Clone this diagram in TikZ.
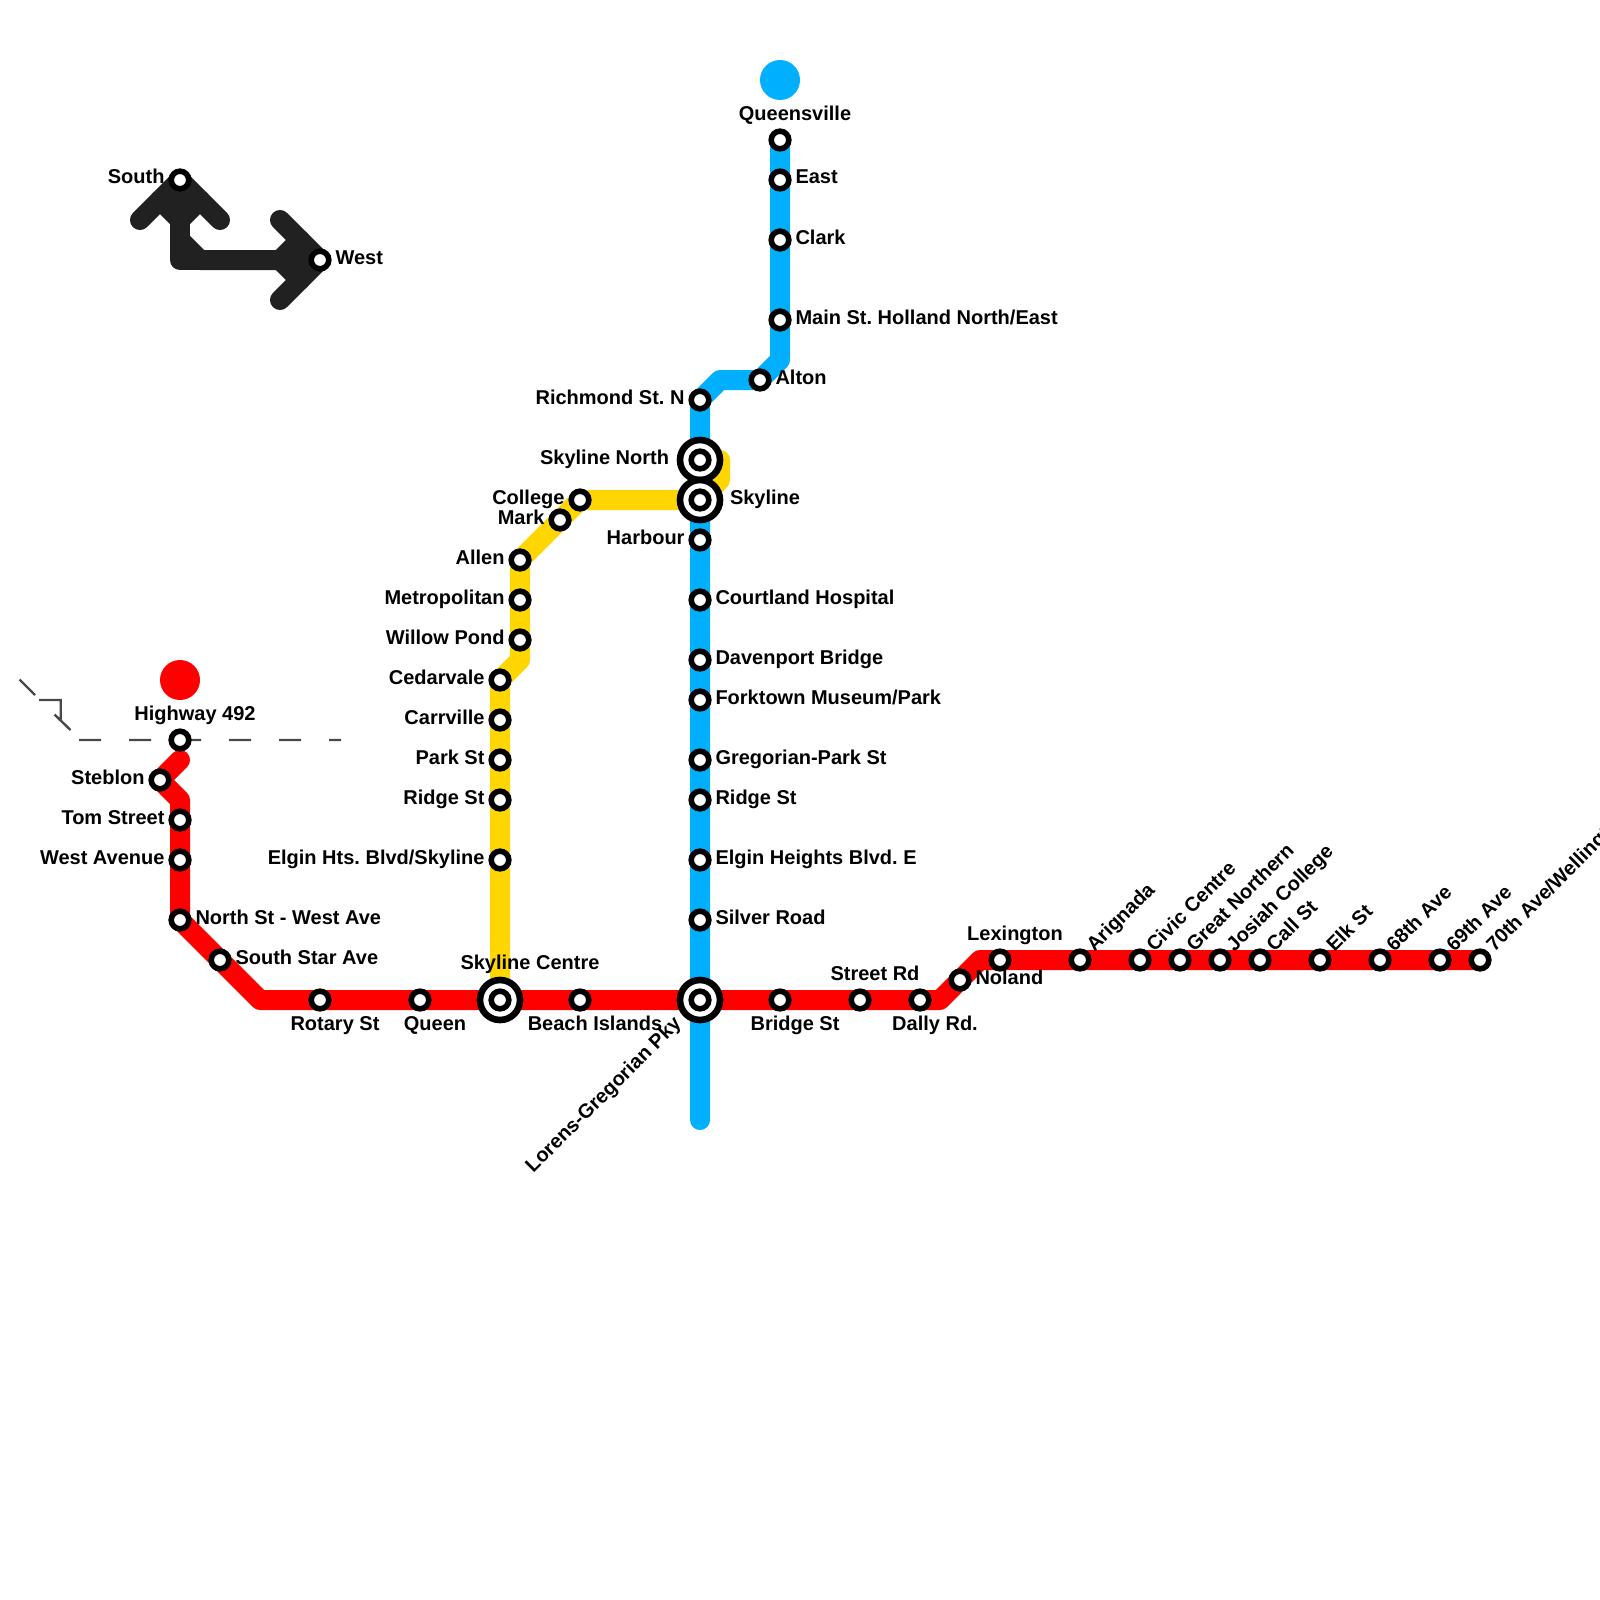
\documentclass[tikz,border=0pt]{standalone}
\usepackage{fontspec}
\setmainfont{Liberation Sans}
\usetikzlibrary{backgrounds}
\frenchspacing
\definecolor{redline}{HTML}{FF0000}
\definecolor{blueline}{HTML}{00B0FF}
\definecolor{yellowline}{HTML}{FFD600}
\definecolor{darkline}{HTML}{212121}
\definecolor{dashgrey}{HTML}{484848}
\tikzset{
  stnd/.style={circle,draw=black,fill=white,line width=2.8pt,minimum size=8.8pt,inner sep=0pt,outer sep=0pt},
  ringd/.style={circle,draw=black,fill=white,line width=3.3pt,minimum size=20pt,inner sep=0pt,outer sep=0pt},
  lbl/.style={font=\fontsize{10pt}{11pt}\selectfont\bfseries,inner sep=0pt,outer sep=0pt,text=black},
  metro/.style={line width=10pt,line cap=round,line join=round},
  thin dash/.style={line width=1.2pt,draw=dashgrey}
}
\newcommand{\stn}[3]{\node[stnd] (#1) at (#2,#3) {};}
\newcommand{\inter}[3]{\node[ringd] (#1r) at (#2,#3) {};\node[stnd] (#1) at (#2,#3) {};}
\newcommand{\labL}[4]{\node[lbl,anchor=base east] (#1L) at ({#2-15.5},{#3+4}) {#4};}
\newcommand{\labR}[4]{\node[lbl,anchor=base west] (#1L) at ({#2+15.5},{#3+4}) {#4};}
\newcommand{\labT}[4]{\node[lbl,anchor=base] (#1L) at ({#2+15},{#3-20}) {#4};}
\newcommand{\labB}[4]{\node[lbl,anchor=base] (#1L) at ({#2+15},{#3+30}) {#4};}
\newcommand{\labD}[4]{\node[lbl,anchor=base west,rotate=45] (#1L) at ({#2+14.5},{#3-7.5}) {#4};}
\begin{document}
\begin{tikzpicture}[x=0.5pt,y=-0.5pt]
\useasboundingbox (0,0) rectangle (1600,1600);
% corners
\coordinate (r0) at (180,760);
\coordinate (r1) at (160,780);
\coordinate (r2) at (180,800);
\coordinate (r3) at (260,1000);
\coordinate (r4) at (940,1000);
\coordinate (r5) at (980,960);
\coordinate (b1) at (780,360);
\coordinate (b2) at (720,380);
\coordinate (b3) at (700,1120);
\coordinate (y1) at (720,460);
\coordinate (y2) at (720,480);
\coordinate (y3) at (520,660);
\coordinate (k1) at (140,220);
\coordinate (k2) at (220,220);
\coordinate (k3) at (180,240);
\coordinate (k4) at (200,260);
\coordinate (k5) at (180,260);
\coordinate (k6) at (280,220);
\coordinate (k7) at (280,300);
\coordinate (k8) at (160,200);
\coordinate (k9) at (180,220);
\coordinate (k10) at (200,200);
\coordinate (k11) at (300,240);
\coordinate (k12) at (280,260);
\coordinate (k13) at (300,280);
\coordinate (d0) at (19.5,679.5);
\coordinate (d1) at (35,695);
\coordinate (d2) at (39,700);
\coordinate (d3) at (60.7,700);
\coordinate (d4) at (60.7,719.3);
\coordinate (d5) at (54.5,714.5);
\coordinate (d6) at (70.5,730);
\foreach \i/\a/\b in {a/79/101,b/129/151,c/179/201,e/229/251,f/279/301,g/329/341}{
  \coordinate (h\i1) at (\a,740);
  \coordinate (h\i2) at (\b,740);
}
% terminal discs
\node[circle,fill=redline,minimum size=20pt,inner sep=0pt] (redend) at (180,680) {};
\node[circle,fill=blueline,minimum size=20pt,inner sep=0pt] (blueend) at (780,80) {};
% red stations
\stn{highway}{180}{740}
\stn{steblon}{160}{780}
\stn{tom}{180}{820}
\stn{westav}{180}{860}
\stn{north}{180}{920}
\stn{star}{220}{960}
\stn{rotary}{320}{1000}
\stn{queen}{420}{1000}
\inter{centre}{500}{1000}
\stn{beach}{580}{1000}
\inter{lorens}{700}{1000}
\stn{bridge}{780}{1000}
\stn{street}{860}{1000}
\stn{dally}{920}{1000}
\stn{noland}{960}{980}
\stn{lex}{1000}{960}
\stn{arig}{1080}{960}
\stn{civic}{1140}{960}
\stn{great}{1180}{960}
\stn{josiah}{1220}{960}
\stn{call}{1260}{960}
\stn{elk}{1320}{960}
\stn{sixeight}{1380}{960}
\stn{sixnine}{1440}{960}
\stn{seventy}{1480}{960}
% blue stations
\stn{queens}{780}{140}
\stn{east}{780}{180}
\stn{clark}{780}{240}
\stn{main}{780}{320}
\stn{alton}{760}{380}
\stn{rich}{700}{400}
\inter{skyn}{700}{460}
\inter{sky}{700}{500}
\stn{harbour}{700}{540}
\stn{court}{700}{600}
\stn{daven}{700}{660}
\stn{fork}{700}{700}
\stn{greg}{700}{760}
\stn{ridgeb}{700}{800}
\stn{elginb}{700}{860}
\stn{silver}{700}{920}
% yellow stations
\stn{college}{580}{500}
\stn{mark}{560}{520}
\stn{allen}{520}{560}
\stn{metro}{520}{600}
\stn{willow}{520}{640}
\stn{cedar}{500}{680}
\stn{carr}{500}{720}
\stn{park}{500}{760}
\stn{ridgey}{500}{800}
\stn{elginy}{500}{860}
% dark stations
\stn{south}{180}{180}
\stn{west}{320}{260}
% lines
\begin{scope}[on background layer]
\fill[white] (0,0) rectangle (1600,1600);
\draw[thin dash] (d0)--(d1) (d2)--(d3)--(d4) (d5)--(d6)
  (ha1)--(ha2) (hb1)--(hb2) (hc1)--(hc2) (he1)--(he2) (hf1)--(hf2) (hg1)--(hg2);
\draw[metro,darkline] (k1)--(south.center)--(k2);
\draw[metro,darkline] (k8)--(k9)--(k10);
\draw[metro,darkline] (south.center)--(k5)--(west.center);
\draw[metro,darkline] (k3)--(k4)--(west.center);
\draw[metro,darkline] (k6)--(west.center)--(k7);
\draw[metro,darkline] (k11)--(k12)--(k13);
\draw[metro,yellowline] (skyn.center)--(y1)--(y2)--(sky.center)--(college.center)--(allen.center)--(y3)--(cedar.center)--(centre.center);
\draw[metro,blueline] (queens.center)--(b1)--(alton.center)--(b2)--(rich.center)--(b3);
\draw[metro,redline] (r0)--(r1)--(r2)--(north.center)--(r3)--(r4)--(r5)--(seventy.center);
\end{scope}
% labels
\labT{highway}{180}{740}{Highway 492}
\labL{steblon}{160}{780}{Steblon}
\labL{tom}{180}{820}{Tom Street}
\labL{westav}{180}{860}{West Avenue}
\labR{north}{180}{920}{North St - West Ave}
\labR{star}{220}{960}{South Star Ave}
\labB{rotary}{320}{1000}{Rotary St}
\labB{queen}{420}{1000}{Queen}
\node[lbl,anchor=base] (centreL) at (530,969) {Skyline Centre};
\labB{beach}{580}{1000}{Beach Islands}
\node[lbl,anchor=base east,rotate=45] (lorensL) at (682,1025) {Lorens-Gregorian Pky};
\labB{bridge}{780}{1000}{Bridge St}
\labT{street}{860}{1000}{Street Rd}
\labB{dally}{920}{1000}{Dally Rd.}
\labR{noland}{960}{980}{Noland}
\labT{lex}{1000}{960}{Lexington}
\labD{arig}{1080}{960}{Arignada}
\labD{civic}{1140}{960}{Civic Centre}
\labD{great}{1180}{960}{Great Northern}
\labD{josiah}{1220}{960}{Josiah College}
\labD{call}{1260}{960}{Call St}
\labD{elk}{1320}{960}{Elk St}
\labD{sixeight}{1380}{960}{68th Ave}
\labD{sixnine}{1440}{960}{69th Ave}
\labD{seventy}{1480}{960}{70th Ave/Wellington}
\labT{queens}{780}{140}{Queensville}
\labR{east}{780}{180}{East}
\labR{clark}{780}{240}{Clark}
\labR{main}{780}{320}{Main St. Holland North/East}
\labR{alton}{760}{380}{Alton}
\labL{rich}{700}{400}{Richmond St. N}
\node[lbl,anchor=base east] (skynL) at (669,464) {Skyline North};
\node[lbl,anchor=base west] (skyL) at (730,504) {Skyline};
\labL{harbour}{700}{540}{Harbour}
\labR{court}{700}{600}{Courtland Hospital}
\labR{daven}{700}{660}{Davenport Bridge}
\labR{fork}{700}{700}{Forktown Museum/Park}
\labR{greg}{700}{760}{Gregorian-Park St}
\labR{ridgeb}{700}{800}{Ridge St}
\labR{elginb}{700}{860}{Elgin Heights Blvd. E}
\labR{silver}{700}{920}{Silver Road}
\labL{college}{580}{500}{College}
\labL{mark}{560}{520}{Mark}
\labL{allen}{520}{560}{Allen}
\labL{metro}{520}{600}{Metropolitan}
\labL{willow}{520}{640}{Willow Pond}
\labL{cedar}{500}{680}{Cedarvale}
\labL{carr}{500}{720}{Carrville}
\labL{park}{500}{760}{Park St}
\labL{ridgey}{500}{800}{Ridge St}
\labL{elginy}{500}{860}{Elgin Hts. Blvd/Skyline}
\labL{south}{180}{180}{South}
\labR{west}{320}{260}{West}
\end{tikzpicture}
\end{document}
